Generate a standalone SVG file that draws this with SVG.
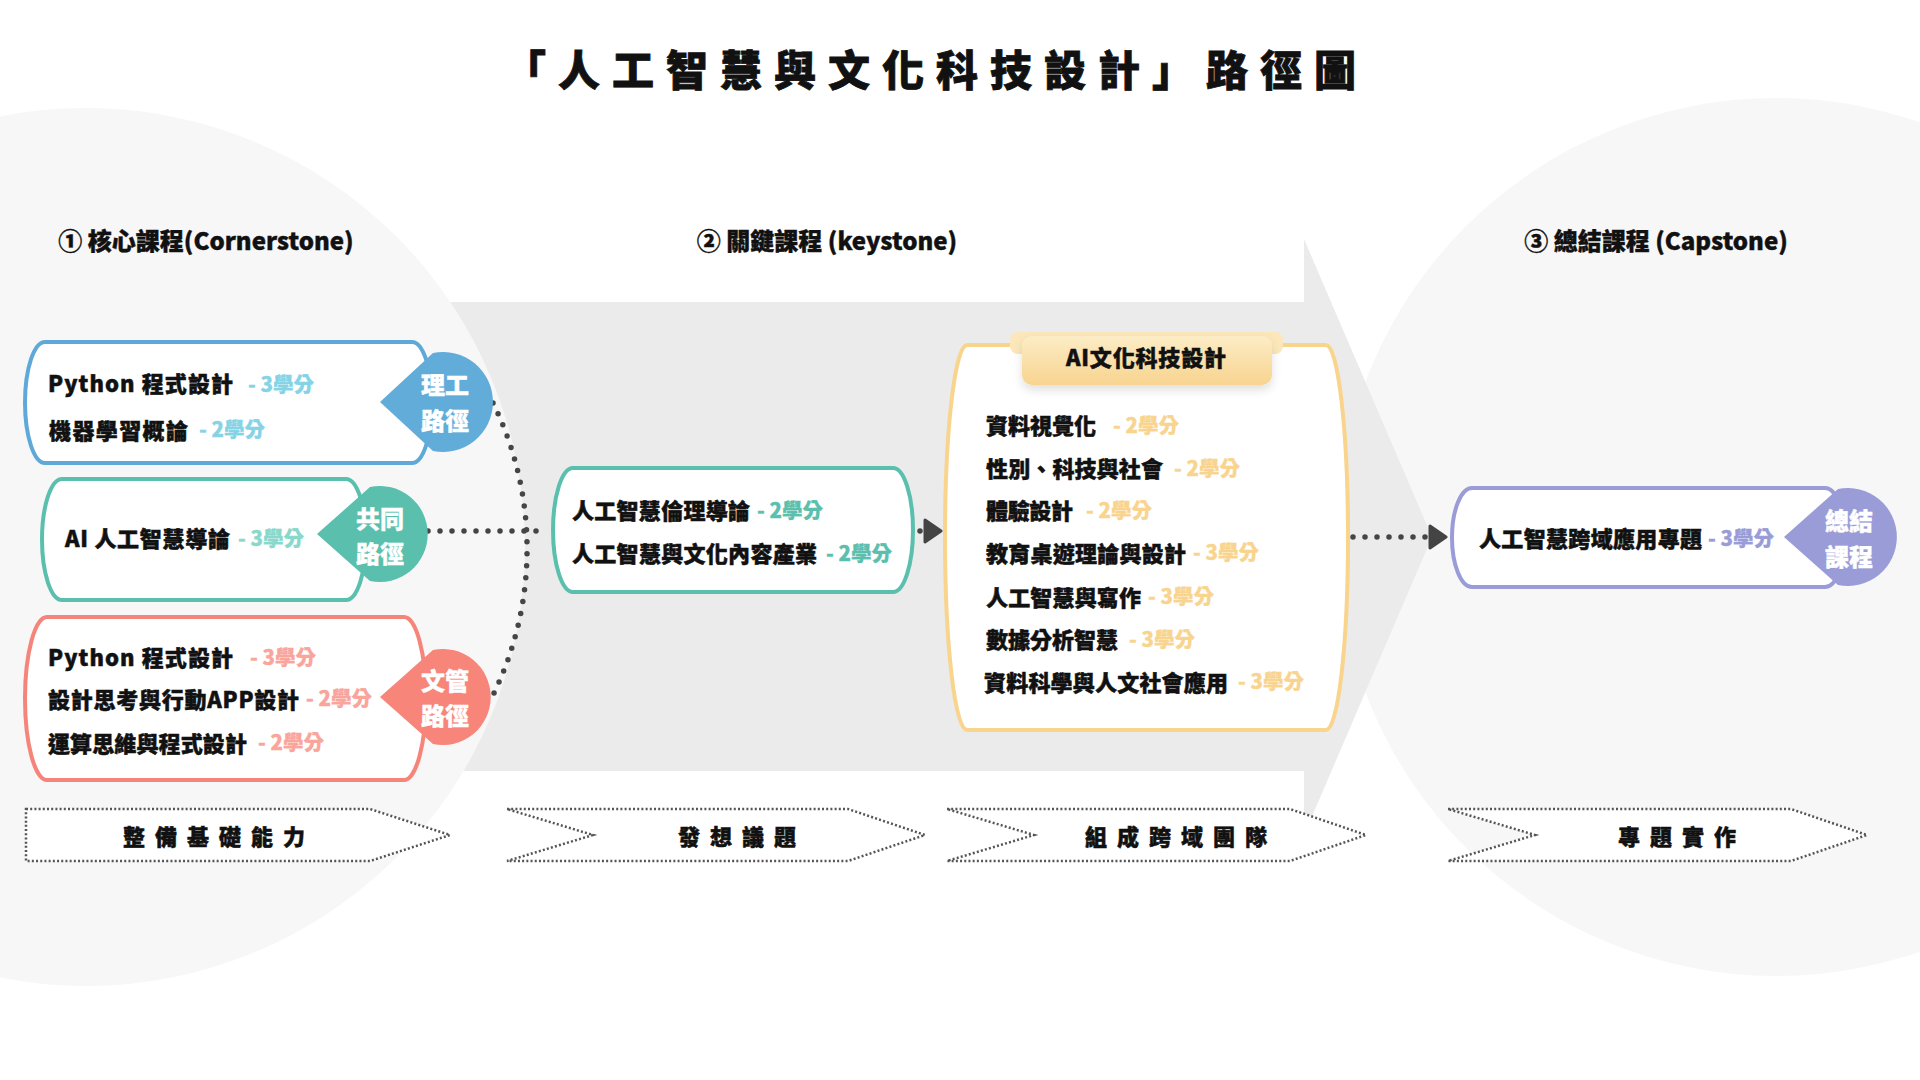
<svg xmlns="http://www.w3.org/2000/svg" width="1920" height="1080" viewBox="0 0 1920 1080">
<defs>
<style>
.t{font-family:"Noto Sans CJK TC","Noto Sans",sans-serif;font-weight:900;dominant-baseline:central}
.item{font-size:22px;fill:#111;stroke:#111;stroke-width:0.5}
.cr{font-size:20.5px;stroke-width:0.3}
.bt{font-size:24px;fill:#fff;stroke:#fff;stroke-width:0.4}
.sec{font-size:24px;fill:#111;stroke:#111;stroke-width:0.4;text-anchor:middle}
.chev{fill:#fff;stroke:#555;stroke-width:2.5;stroke-dasharray:2 2.2}
.cht{font-size:22px;fill:#111;stroke:#111;stroke-width:0.5;letter-spacing:10px;text-anchor:middle}
.box{fill:#fff;stroke-width:4}
.dots{fill:none;stroke:#454545;stroke-width:5.5;stroke-linecap:round;stroke-dasharray:0 12}
</style>
<linearGradient id="hdr" x1="0" y1="0" x2="0" y2="1">
<stop offset="0" stop-color="#fcecc6"/>
<stop offset="1" stop-color="#f8d48f"/>
</linearGradient>
<filter id="sh" x="-10%" y="-30%" width="120%" height="170%">
<feDropShadow dx="0" dy="5" stdDeviation="5" flood-color="#000" flood-opacity="0.12"/>
</filter>
<marker id="arr" viewBox="0 0 20 26" markerUnits="userSpaceOnUse" markerWidth="20" markerHeight="26" refX="1" refY="13" orient="auto">
<path d="M2,2 L18,13 L2,24 Z" fill="#444" stroke="#444" stroke-width="3" stroke-linejoin="round"/>
</marker>
</defs>
<rect width="1920" height="1080" fill="#fff"/>
<g id="background">
<circle cx="1776" cy="537" r="439" fill="#f7f7f7"/>
<path d="M400,302 H1304 V239 L1432,537 L1304,835 V771 H400 Z" fill="#ebebeb"/>
<circle cx="86" cy="547" r="439" fill="#f7f7f7"/>
</g>
<text class="t" x="504" y="67" font-size="42" letter-spacing="12" fill="#111" stroke="#111" stroke-width="0.8">「人工智慧與文化科技設計」路徑圖</text>
<g id="section-headings">
<text class="t sec" x="206" y="239">① 核心課程(Cornerstone)</text>
<text class="t sec" x="827" y="239">② 關鍵課程 (keystone)</text>
<text class="t sec" x="1656" y="239">③ 總結課程 (Capstone)</text>
</g>
<g id="connectors">
<path class="dots" d="M493,403 A330,330 0 0 1 493,695"/>
<path class="dots" d="M428,531 H548"/>
<path class="dots" d="M920,531 H924" marker-end="url(#arr)"/>
<path class="dots" d="M1353,537 H1429" marker-end="url(#arr)"/>
</g>
<g id="node-science">
<path class="box" stroke="#5fa9d8" d="M45,342 H412 A20,60.5 0 0 1 412,463 H45 A20,60.5 0 0 1 45,342 Z"/>
<text class="t item" x="48" y="382" textLength="185">Python 程式設計</text>
<text class="t cr" x="248" y="383" fill="#86d3e6" stroke="#86d3e6">- 3學分</text>
<text class="t item" x="49" y="429" textLength="139">機器學習概論</text>
<text class="t cr" x="199" y="428" fill="#86d3e6" stroke="#86d3e6">- 2學分</text>
<path d="M380,402 L433,353 A50,50 0 1 1 433,451 Z" fill="#62acd9"/>
<text class="t bt" x="445" y="383" text-anchor="middle">理工</text>
<text class="t bt" x="445" y="419" text-anchor="middle">路徑</text>
</g>
<g id="node-common">
<path class="box" stroke="#5bbfae" d="M62,479 H346 A20,60.5 0 0 1 346,600 H62 A20,60.5 0 0 1 62,479 Z"/>
<text class="t item" x="65" y="537" textLength="165">AI 人工智慧導論</text>
<text class="t cr" x="238" y="537" fill="#88d8cb" stroke="#88d8cb">- 3學分</text>
<path d="M317,534 L370,487 A48,48 0 1 1 370,581 Z" fill="#5bbfad"/>
<text class="t bt" x="380" y="517" text-anchor="middle">共同</text>
<text class="t bt" x="380" y="552" text-anchor="middle">路徑</text>
</g>
<g id="node-humanities">
<path class="box" stroke="#f5857a" d="M47,617 H404 A22,81.5 0 0 1 404,780 H47 A22,81.5 0 0 1 47,617 Z"/>
<text class="t item" x="48" y="656" textLength="185">Python 程式設計</text>
<text class="t cr" x="250" y="656" fill="#f9a59b" stroke="#f9a59b">- 3學分</text>
<text class="t item" x="48" y="698" textLength="251">設計思考與行動APP設計</text>
<text class="t cr" x="306" y="697" fill="#f9a59b" stroke="#f9a59b">- 2學分</text>
<text class="t item" x="48" y="742" textLength="199">運算思維與程式設計</text>
<text class="t cr" x="258" y="741" fill="#f9a59b" stroke="#f9a59b">- 2學分</text>
<path d="M380,697 L433,650 A48,48 0 1 1 433,744 Z" fill="#f7857a"/>
<text class="t bt" x="445" y="679" text-anchor="middle">文管</text>
<text class="t bt" x="445" y="714" text-anchor="middle">路徑</text>
</g>
<g id="node-keystone">
<path class="box" stroke="#5bbfae" d="M573,468 H893 A20,62 0 0 1 893,592 H573 A20,62 0 0 1 573,468 Z"/>
<text class="t item" x="572" y="509" textLength="178">人工智慧倫理導論</text>
<text class="t cr" x="757" y="509" fill="#5cbfae" stroke="#5cbfae">- 2學分</text>
<text class="t item" x="572" y="552" textLength="245">人工智慧與文化內容產業</text>
<text class="t cr" x="826" y="552" fill="#5cbfae" stroke="#5cbfae">- 2學分</text>
</g>
<g id="node-ai-culture">
<path class="box" stroke="#f8d48c" d="M967,345 H1326 A22,192.5 0 0 1 1326,730 H967 A22,192.5 0 0 1 967,345 Z"/>
<rect x="1010" y="332" width="273" height="22" rx="8" fill="#fbe7b9"/>
<rect x="1022" y="336" width="250" height="49" rx="10" fill="url(#hdr)" filter="url(#sh)"/>
<text class="t item" x="1066" y="356" textLength="160">AI文化科技設計</text>
<text class="t item" x="986" y="424" textLength="110">資料視覺化</text>
<text class="t cr" x="1113" y="424" fill="#f8d48e" stroke="#f8d48e">- 2學分</text>
<text class="t item" x="986" y="467" textLength="177">性別、科技與社會</text>
<text class="t cr" x="1174" y="467" fill="#f8d48e" stroke="#f8d48e">- 2學分</text>
<text class="t item" x="986" y="509" textLength="87">體驗設計</text>
<text class="t cr" x="1086" y="509" fill="#f8d48e" stroke="#f8d48e">- 2學分</text>
<text class="t item" x="986" y="552" textLength="200">教育桌遊理論與設計</text>
<text class="t cr" x="1193" y="551" fill="#f8d48e" stroke="#f8d48e">- 3學分</text>
<text class="t item" x="986" y="596" textLength="155">人工智慧與寫作</text>
<text class="t cr" x="1148" y="595" fill="#f8d48e" stroke="#f8d48e">- 3學分</text>
<text class="t item" x="986" y="638" textLength="132">數據分析智慧</text>
<text class="t cr" x="1129" y="638" fill="#f8d48e" stroke="#f8d48e">- 3學分</text>
<text class="t item" x="984" y="681" textLength="244">資料科學與人文社會應用</text>
<text class="t cr" x="1238" y="680" fill="#f8d48e" stroke="#f8d48e">- 3學分</text>
</g>
<g id="node-capstone">
<path class="box" stroke="#9a9cd8" d="M1472,488 H1825 A20,49.5 0 0 1 1825,587 H1472 A20,49.5 0 0 1 1472,488 Z"/>
<text class="t item" x="1479" y="537" textLength="223">人工智慧跨域應用專題</text>
<text class="t cr" x="1708" y="537" fill="#9a9cd8" stroke="#9a9cd8">- 3學分</text>
<path d="M1784,537 L1838,489 A49,49 0 1 1 1838,585 Z" fill="#9a9cd8"/>
<text class="t bt" x="1849" y="519" text-anchor="middle">總結</text>
<text class="t bt" x="1849" y="555" text-anchor="middle">課程</text>
</g>
<g id="stages">
<g id="stage-1"><path class="chev" d="M26,809 H370 L450,835 L370,861 H26 Z"/><text class="t cht" x="219" y="835">整備基礎能力</text></g>
<g id="stage-2"><path class="chev" d="M507,809 H848 L925,835 L848,861 H507 L593,835 Z"/><text class="t cht" x="742" y="835">發想議題</text></g>
<g id="stage-3"><path class="chev" d="M947,809 H1290 L1366,835 L1290,861 H947 L1034,835 Z"/><text class="t cht" x="1181" y="835">組成跨域團隊</text></g>
<g id="stage-4"><path class="chev" d="M1448,809 H1791 L1867,835 L1791,861 H1448 L1535,835 Z"/><text class="t cht" x="1682" y="835">專題實作</text></g>
</g>
</svg>
